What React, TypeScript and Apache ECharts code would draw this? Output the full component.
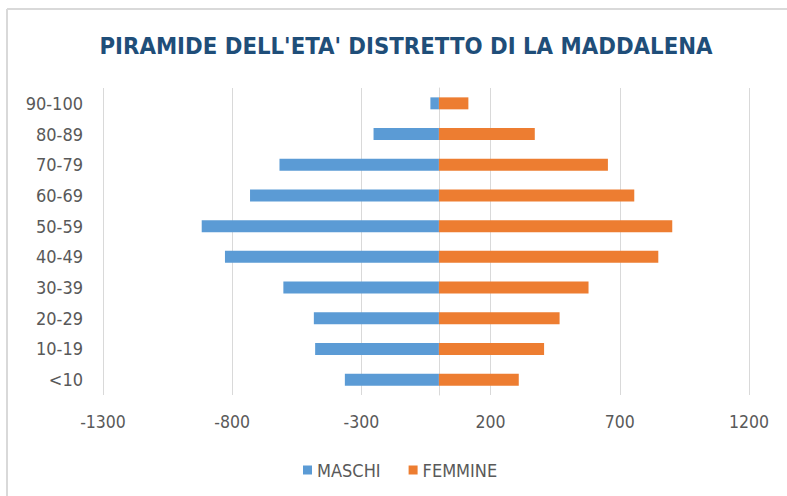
import React, { useEffect, useRef } from "react";
import * as echarts from "echarts";

const categories = ["<10", "10-19", "20-29", "30-39", "40-49", "50-59", "60-69", "70-79", "80-89", "90-100"];
const maschi = [-364, -479, -484, -602, -828, -918, -731, -617, -253, -33];
const femmine = [309, 407, 467, 579, 849, 903, 756, 654, 371, 114];
const titleText = "PIRAMIDE DELL'ETA' DISTRETTO DI LA MADDALENA";

const FONT = "'Liberation Sans Narrow', 'DejaVu Sans Condensed', 'Open Sans', sans-serif";

export default function App() {
  const ref = useRef<HTMLDivElement>(null);
  useEffect(() => {
    const chart = echarts.init(ref.current!, undefined, { renderer: "svg" });
    chart.setOption({
      animation: false,
      backgroundColor: "#ffffff",
      title: {
        text: titleText,
        left: 401,
        top: 29,
        textAlign: "center",
        textStyle: { fontFamily: FONT, fontSize: 23.7, fontWeight: "bold", color: "#1f4e79" },
      },
      graphic: [
        { type: "line", shape: { x1: 7, y1: 9, x2: 787, y2: 9 }, style: { stroke: "#d9d9d9", lineWidth: 2 } },
        { type: "line", shape: { x1: 7, y1: 9, x2: 7, y2: 496 }, style: { stroke: "#d9d9d9", lineWidth: 2 } },
      ],
      legend: {
        data: ["MASCHI", "FEMMINE"],
        left: 298,
        top: 456,
        icon: "rect",
        itemWidth: 9,
        itemHeight: 9,
        itemGap: 28,
        textStyle: { fontFamily: FONT, fontSize: 18, color: "#595959" },
      },
      grid: { left: 103, right: 38, top: 88, bottom: 101, containLabel: false },
      xAxis: {
        type: "value",
        min: -1300,
        max: 1200,
        interval: 500,
        axisLine: { show: false },
        axisTick: { show: false },
        splitLine: { lineStyle: { color: "#d9d9d9", width: 1 } },
        axisLabel: {
          fontFamily: FONT,
          fontSize: 17.5,
          color: "#595959",
          margin: 18,
          formatter: (v: number) => String(v),
        },
      },
      yAxis: {
        type: "category",
        data: categories,
        axisLine: { show: true, onZero: true, lineStyle: { color: "#d9d9d9" } },
        axisTick: { show: false },
        axisLabel: { fontFamily: FONT, fontSize: 18, color: "#595959", margin: 20 },
      },
      series: [
        {
          name: "MASCHI",
          type: "bar",
          stack: "total",
          data: maschi,
          barWidth: "39%",
          itemStyle: { color: "#5b9bd5" },
        },
        {
          name: "FEMMINE",
          type: "bar",
          stack: "total",
          data: femmine,
          barWidth: "39%",
          itemStyle: { color: "#ed7d31" },
        },
      ],
    });
    return () => chart.dispose();
  }, []);
  return <div ref={ref} style={{ position: "fixed", left: 0, top: 0, width: 787, height: 496 }} />;
}
